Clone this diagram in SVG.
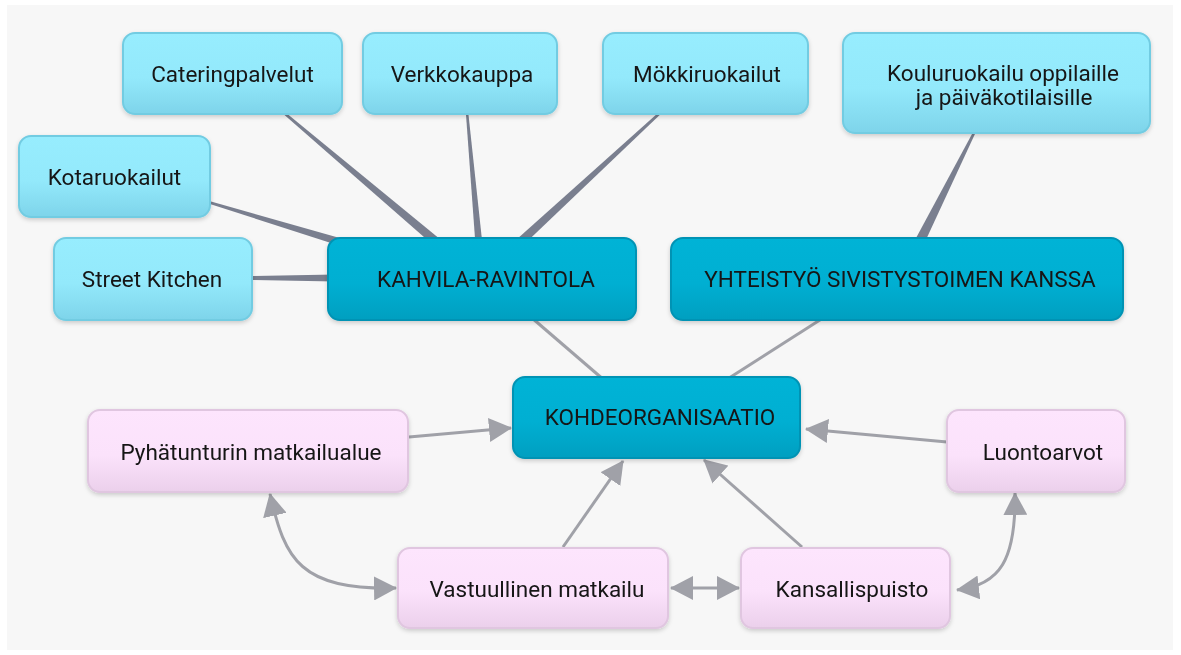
<svg xmlns="http://www.w3.org/2000/svg" width="1181" height="655" viewBox="0 0 1181 655">
<style>
.t{font-family:Roboto,"Liberation Sans",sans-serif;font-size:22.5px;fill:#151515;text-anchor:middle;dominant-baseline:central}
.lb{fill:url(#gL);stroke:#72cce2;stroke-width:2}
.db{fill:url(#gD);stroke:#0093b4;stroke-width:2}
.pb{fill:url(#gP);stroke:#e0c6e0;stroke-width:2}
.tp{fill:#7a7f8f}
.gl{stroke:#a0a1a8;stroke-width:3;fill:none}
.ar{stroke:#a0a1a8;stroke-width:3;fill:none;marker-end:url(#ah)}
.ar2{stroke:#a0a1a8;stroke-width:3;fill:none;marker-end:url(#ah);marker-start:url(#ah)}
</style>
<defs>
<linearGradient id="gL" x1="0" y1="0" x2="0" y2="1"><stop offset="0" stop-color="#97edfe"/><stop offset="0.55" stop-color="#93e9fb"/><stop offset="1" stop-color="#7ed4ea"/></linearGradient>
<linearGradient id="gD" x1="0" y1="0" x2="0" y2="1"><stop offset="0" stop-color="#00b3d6"/><stop offset="0.55" stop-color="#00afd2"/><stop offset="1" stop-color="#009fc0"/></linearGradient>
<linearGradient id="gP" x1="0" y1="0" x2="0" y2="1"><stop offset="0" stop-color="#fde5fd"/><stop offset="0.55" stop-color="#fbe2fb"/><stop offset="1" stop-color="#ebd0eb"/></linearGradient>
<filter id="sh" x="-10%" y="-10%" width="120%" height="130%"><feDropShadow dx="0" dy="2" stdDeviation="2" flood-color="#000" flood-opacity="0.18"/></filter>
<marker id="ah" markerUnits="userSpaceOnUse" markerWidth="24" markerHeight="24" refX="22" refY="12" orient="auto-start-reverse" viewBox="0 0 24 24"><path d="M0,0 L23,12 L0,24 z" fill="#a0a1a8"/></marker>
</defs>
<rect x="0" y="0" width="1181" height="655" fill="#ffffff"/>
<rect x="7" y="5" width="1166" height="645" fill="#f7f7f7"/>
<g id="connectors">
<polygon class="tp" points="282.2,112.9 437.1,248.4 442.9,241.6 283.8,111.1"/>
<polygon class="tp" points="465.8,112.1 475.5,245.3 482.5,244.7 468.2,111.9"/>
<polygon class="tp" points="660.2,111.1 514,241.7 520,248.3 661.8,112.9"/>
<polygon class="tp" points="207.6,203.2 348.8,248.8 351.2,241.2 208.4,200.8"/>
<polygon class="tp" points="250,276 335,274.5 335,281.5 250,280"/>
<polygon class="tp" points="973.9,130.5 913.5,242.8 922.5,247.2 976.1,131.5"/>
<line class="gl" x1="532" y1="318" x2="604" y2="380"/>
<line class="gl" x1="823" y1="318" x2="726" y2="380"/>
<path class="ar" d="M409,437 L511,428"/>
<path class="ar" d="M947,442 L806,429"/>
<path class="ar" d="M563,547 L623,461"/>
<path class="ar" d="M802,547 L704,460"/>
<path class="ar2" d="M671,588 L739,588"/>
<path class="ar2" d="M270,494 C285,560 300,590 396,588"/>
<path class="ar2" d="M957,590 C1000,585 1016,560 1015,493"/>
</g>
<g id="n-catering" filter="url(#sh)"><rect class="lb" x="123" y="33" width="219" height="81" rx="12"/><text class="t" x="232.5" y="74">Cateringpalvelut</text></g>
<g id="n-verkkokauppa" filter="url(#sh)"><rect class="lb" x="363" y="33" width="194" height="81" rx="12"/><text class="t" x="462" y="74">Verkkokauppa</text></g>
<g id="n-mokki" filter="url(#sh)"><rect class="lb" x="603" y="33" width="205" height="81" rx="12"/><text class="t" x="707" y="74">Mökkiruokailut</text></g>
<g id="n-koulu" filter="url(#sh)"><rect class="lb" x="843" y="33" width="307" height="100" rx="12"/><text class="t" x="1003" y="73">Kouluruokailu oppilaille</text><text class="t" x="1004" y="97">ja päiväkotilaisille</text></g>
<g id="n-kota" filter="url(#sh)"><rect class="lb" x="19" y="136" width="191" height="81" rx="12"/><text class="t" x="114.5" y="177">Kotaruokailut</text></g>
<g id="n-street" filter="url(#sh)"><rect class="lb" x="54" y="238" width="198" height="82" rx="12"/><text class="t" x="152" y="279">Street Kitchen</text></g>
<g id="n-kahvila" filter="url(#sh)"><rect class="db" x="328" y="238" width="308" height="82" rx="12"/><text class="t" x="486" y="279">KAHVILA-RAVINTOLA</text></g>
<g id="n-yhteistyo" filter="url(#sh)"><rect class="db" x="671" y="238" width="452" height="82" rx="12"/><text class="t" x="900" y="279">YHTEISTYÖ SIVISTYSTOIMEN KANSSA</text></g>
<g id="n-kohde" filter="url(#sh)"><rect class="db" x="513" y="377" width="287" height="81" rx="12"/><text class="t" x="660" y="417">KOHDEORGANISAATIO</text></g>
<g id="n-pyha" filter="url(#sh)"><rect class="pb" x="88" y="410" width="320" height="82" rx="12"/><text class="t" x="251" y="452">Pyhätunturin matkailualue</text></g>
<g id="n-luonto" filter="url(#sh)"><rect class="pb" x="947" y="410" width="178" height="82" rx="12"/><text class="t" x="1043" y="452">Luontoarvot</text></g>
<g id="n-vastuu" filter="url(#sh)"><rect class="pb" x="398" y="548" width="270" height="80" rx="12"/><text class="t" x="537" y="589">Vastuullinen matkailu</text></g>
<g id="n-kansalli" filter="url(#sh)"><rect class="pb" x="741" y="548" width="209" height="80" rx="12"/><text class="t" x="852" y="589">Kansallispuisto</text></g>
</svg>
